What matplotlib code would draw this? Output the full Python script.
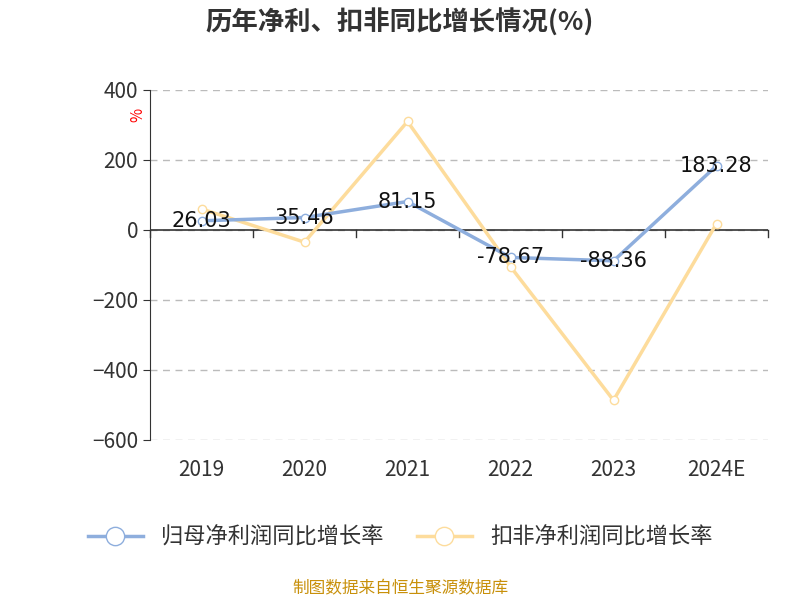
import matplotlib.pyplot as plt

plt.rcParams['font.family'] = ['Noto Sans CJK SC', 'DejaVu Sans']

years = ["2019", "2020", "2021", "2022", "2023", "2024E"]
net_growth = [26.03, 35.46, 81.15, -78.67, -88.36, 183.28]
deduct_growth = [60, -35, 310, -105, -487, 18]

fig = plt.figure(figsize=(8, 6), dpi=100)
ax = fig.add_axes([0.1875, 0.267, 0.7725, 0.583])
x = range(len(years))

ax.plot(x, net_growth, color="#8eaedd", lw=2.5, marker="o", ms=6,
        mfc="white", mec="#8eaedd", label="归母净利润同比增长率", zorder=3)
ax.plot(x, deduct_growth, color="#fddc9c", lw=2.5, marker="o", ms=6,
        mfc="white", mec="#fddc9c", label="扣非净利润同比增长率", zorder=2)
for i, v in enumerate(net_growth):
    ax.text(i, v, f"{v:.2f}", ha="center", va="center", fontsize=15,
            color="#111111", zorder=4, family="DejaVu Sans")

ax.set_xlim(-0.5, 5.5)
ax.set_ylim(-600, 400)
ax.set_yticks(range(-600, 401, 200))
ax.set_xticks(list(x))
ax.set_xticklabels(years)
ax.tick_params(axis="both", labelsize=15, colors="#333333", length=5)
ax.tick_params(axis="x", length=0, pad=14)
ax.grid(axis="y", ls=(0, (5, 4)), color="#bbbbbb", lw=1)
ax.set_axisbelow(True)
for s in ["top", "right", "bottom"]:
    ax.spines[s].set_visible(False)
ax.spines["left"].set_color("#333333")
# zero line with ticks
ax.axhline(0, color="#333333", lw=1.2, zorder=1)
for i in range(len(years) + 1):
    ax.plot([i - 0.5, i - 0.5], [0, -20], color="#333333", lw=1, clip_on=False)
ax.text(-0.62, 330, "%", color="red", fontsize=11, rotation=90, ha="center", va="center")

fig.text(0.5, 0.962, "历年净利、扣非同比增长情况(%)", ha="center", va="center",
         fontsize=19, fontweight="bold", color="#333333")
fig.legend(loc="center", bbox_to_anchor=(0.5, 0.105), ncol=2, frameon=False,
           fontsize=16, handlelength=2.5, columnspacing=1.5, labelcolor="#333333",
           markerscale=2.2)
fig.text(0.5, 0.018, "制图数据来自恒生聚源数据库", ha="center", va="center",
         fontsize=12, color="#c8900a")

fig.savefig("out.png")
